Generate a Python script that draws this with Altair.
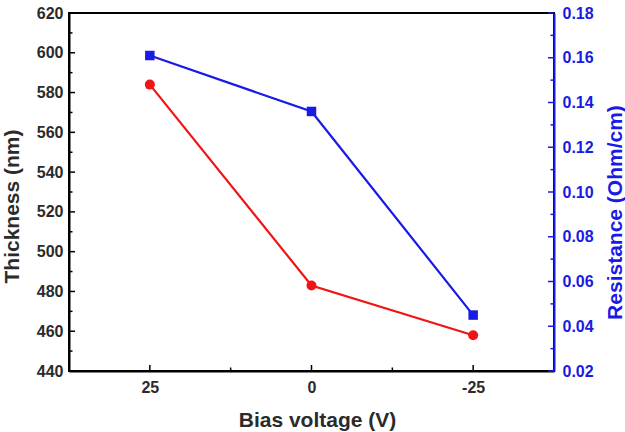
import altair as alt
import pandas as pd

# Measured series
bias_voltage = [25, 0, -25]
thickness_nm = [584, 483, 458]
resistance_ohm_cm = [0.161, 0.136, 0.045]

# Axis tick values
x_major = [25, 0, -25]
x_minor = [12.5, -12.5]
left_major = [440, 460, 480, 500, 520, 540, 560, 580, 600, 620]
left_minor = [450, 470, 490, 510, 530, 550, 570, 590, 610]
right_major = [0.02, 0.04, 0.06, 0.08, 0.10, 0.12, 0.14, 0.16, 0.18]
right_minor = [0.03, 0.05, 0.07, 0.09, 0.11, 0.13, 0.15, 0.17]

W, H = 485, 358
RED = "#f01414"
BLUE = "#1a1ae6"
INK = "#2b2b2b"
FONT = "Liberation Sans"
LABEL_SIZE = 16
TITLE_SIZE = 21

df = pd.DataFrame({"v": bias_voltage, "t": thickness_nm, "r": resistance_ohm_cm})

x_scale = alt.Scale(domain=[-37.5, 37.5], reverse=True, nice=False, zero=False)
x_axis = alt.Axis(
    values=x_major, labelExpr="datum.value + ''", ticks=False, grid=False,
    domainColor="black", domainWidth=2,
    labelFont=FONT, labelFontWeight="bold", labelFontSize=LABEL_SIZE, labelColor=INK,
    labelPadding=8, title="Bias voltage (V)", titleFont=FONT, titleFontWeight="bold",
    titleFontSize=TITLE_SIZE, titleColor=INK,
    titleX=248, titleY=49, titleAlign="center", titleBaseline="middle",
)

left_scale = alt.Scale(domain=[440, 620], nice=False, zero=False)
right_scale = alt.Scale(domain=[0.02, 0.18], nice=False, zero=False)

left_axis = alt.Axis(
    values=left_major, ticks=False, grid=False, domainColor="black", domainWidth=2,
    labelFont=FONT, labelFontWeight="bold", labelFontSize=LABEL_SIZE, labelColor=INK,
    labelPadding=6, title="Thickness (nm)", titleFont=FONT, titleFontWeight="bold",
    titleFontSize=TITLE_SIZE, titleColor=INK,
    titleAngle=270, titleX=-57, titleY=193, titleAlign="center", titleBaseline="middle",
)
right_axis = alt.Axis(
    orient="right", values=right_major, format=".2f", ticks=False, grid=False,
    domainColor=BLUE, domainWidth=2, zindex=1,
    labelFont=FONT, labelFontWeight="bold", labelFontSize=LABEL_SIZE, labelColor=BLUE,
    labelPadding=8, title="Resistance (Ohm/cm)", titleFont=FONT, titleFontWeight="bold",
    titleFontSize=TITLE_SIZE, titleColor=BLUE,
    titleAngle=270, titleX=61, titleY=199, titleAlign="center", titleBaseline="middle",
)


def xq(field):
    return alt.X(field, type="quantitative", scale=x_scale, axis=x_axis)


def yl(field):
    return alt.Y(field, type="quantitative", scale=left_scale, axis=left_axis)


def yr(field):
    return alt.Y(field, type="quantitative", scale=right_scale, axis=right_axis)


base = alt.Chart(df)

red_line = base.mark_line(color=RED, strokeWidth=2.2).encode(x=xq("v"), y=yl("t"))
red_pts = base.mark_point(shape="circle", filled=True, color=RED, size=100, opacity=1).encode(
    x=xq("v"), y=yl("t")
)

# inward ticks on the left axis
left_major_ticks = alt.Chart(pd.DataFrame({"y": left_major})).mark_rule(
    color="black", strokeWidth=1.5
).encode(y=yl("y"), x=alt.value(0), x2=alt.value(6))
left_minor_ticks = alt.Chart(pd.DataFrame({"y": left_minor})).mark_rule(
    color="black", strokeWidth=1.5
).encode(y=yl("y"), x=alt.value(0), x2=alt.value(3.5))

# inward ticks on the bottom axis
x_major_ticks = alt.Chart(pd.DataFrame({"x": x_major})).mark_rule(
    color="black", strokeWidth=1.5
).encode(x=xq("x"), y=alt.value(H), y2=alt.value(H - 6))
x_minor_ticks = alt.Chart(pd.DataFrame({"x": x_minor})).mark_rule(
    color="black", strokeWidth=1.5
).encode(x=xq("x"), y=alt.value(H), y2=alt.value(H - 3.5))

left_group = alt.layer(
    red_line, red_pts, left_major_ticks, left_minor_ticks, x_major_ticks, x_minor_ticks
)

blue_line = base.mark_line(color=BLUE, strokeWidth=2.2).encode(x=xq("v"), y=yr("r"))
blue_pts = base.mark_point(shape="square", filled=True, color=BLUE, size=90, opacity=1).encode(
    x=xq("v"), y=yr("r")
)

right_major_ticks = alt.Chart(pd.DataFrame({"y": right_major})).mark_rule(
    color=BLUE, strokeWidth=1.5
).encode(y=yr("y"), x=alt.value(W - 6), x2=alt.value(W))
right_minor_ticks = alt.Chart(pd.DataFrame({"y": right_minor})).mark_rule(
    color=BLUE, strokeWidth=1.5
).encode(y=yr("y"), x=alt.value(W - 3.5), x2=alt.value(W))

right_group = alt.layer(blue_line, blue_pts, right_major_ticks, right_minor_ticks)

chart = (
    alt.layer(left_group, right_group)
    .resolve_scale(y="independent")
    .properties(
        width=W,
        height=H,
        autosize=alt.AutoSizeParams(type="none"),
        padding={"left": 69, "top": 13, "right": 71, "bottom": 61},
        background="white",
    )
    .configure_view(stroke="black", strokeWidth=2)
)

chart.save("out.html", embed_options={"renderer": "svg", "actions": False})
